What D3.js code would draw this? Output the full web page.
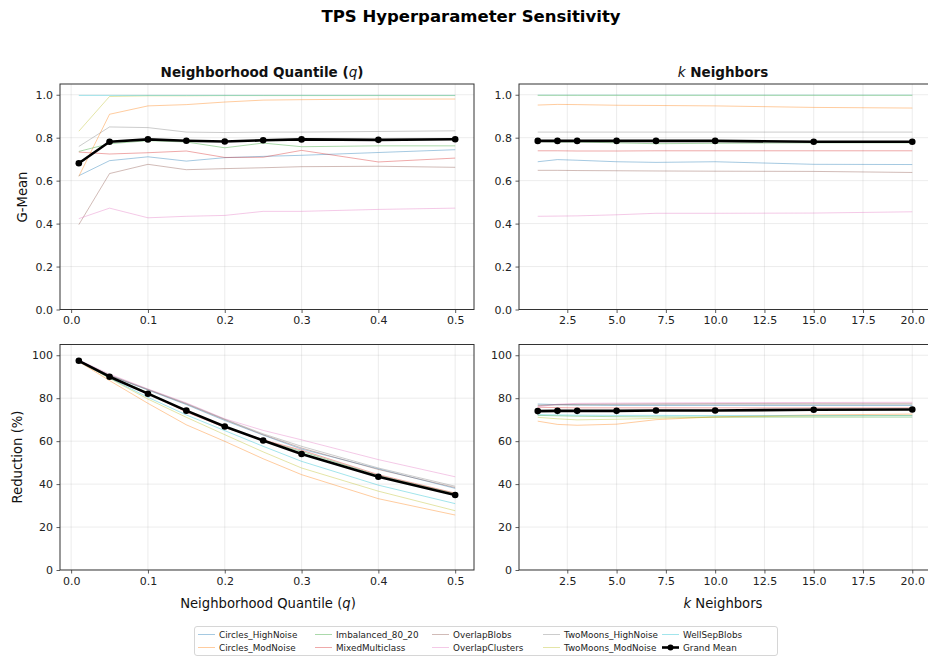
<!DOCTYPE html>
<html>
<head>
<meta charset="utf-8">
<script src="https://cdn.jsdelivr.net/npm/d3@7"></script>
<style>
  body { margin: 0; background: #fff; }
  svg { display: block; font-family: "DejaVu Sans", sans-serif; }
</style>
</head>
<body>
<svg id="chart" width="928" height="658"></svg>
<script>
// Sweep settings
const qValues = [0.01, 0.05, 0.1, 0.15, 0.2, 0.25, 0.3, 0.4, 0.5];
const kValues = [1, 2, 3, 5, 7, 10, 15, 20];

const datasetNames = [
  "Circles_HighNoise", "Circles_ModNoise", "Imbalanced_80_20", "MixedMulticlass",
  "OverlapBlobs", "OverlapClusters", "TwoMoons_HighNoise", "TwoMoons_ModNoise", "WellSepBlobs"
];
const datasetColors = ["#1f77b4", "#ff7f0e", "#2ca02c", "#d62728", "#8c564b",
                       "#e377c2", "#7f7f7f", "#bcbd22", "#17becf"];

// G-Mean per dataset across q
const gmeanQ = [
  [0.623, 0.693, 0.711, 0.691, 0.707, 0.713, 0.718, 0.731, 0.744],
  [0.620, 0.909, 0.948, 0.954, 0.966, 0.975, 0.977, 0.980, 0.980],
  [0.736, 0.772, 0.786, 0.780, 0.753, 0.775, 0.758, 0.762, 0.762],
  [0.733, 0.724, 0.730, 0.738, 0.708, 0.709, 0.741, 0.687, 0.705],
  [0.395, 0.633, 0.676, 0.651, 0.656, 0.660, 0.665, 0.667, 0.662],
  [0.423, 0.472, 0.427, 0.434, 0.438, 0.457, 0.457, 0.466, 0.472],
  [0.759, 0.850, 0.847, 0.826, 0.824, 0.826, 0.826, 0.829, 0.832],
  [0.830, 0.992, 0.995, 0.995, 0.996, 0.996, 0.996, 0.996, 0.996],
  [0.997, 0.997, 0.997, 0.997, 0.997, 0.997, 0.997, 0.997, 0.997]
];
const gmeanQMean = [0.681, 0.781, 0.792, 0.786, 0.782, 0.788, 0.792, 0.790, 0.793];

// G-Mean per dataset across k
const gmeanK = [
  [0.688, 0.698, 0.695, 0.688, 0.685, 0.688, 0.676, 0.675],
  [0.952, 0.955, 0.954, 0.951, 0.950, 0.948, 0.941, 0.938],
  [0.782, 0.780, 0.780, 0.776, 0.772, 0.774, 0.776, 0.776],
  [0.739, 0.739, 0.738, 0.738, 0.739, 0.739, 0.739, 0.739],
  [0.648, 0.648, 0.647, 0.646, 0.645, 0.644, 0.643, 0.638],
  [0.434, 0.435, 0.436, 0.441, 0.448, 0.448, 0.449, 0.455],
  [0.826, 0.826, 0.826, 0.826, 0.826, 0.826, 0.826, 0.826],
  [0.997, 0.997, 0.997, 0.997, 0.997, 0.997, 0.997, 0.997],
  [0.998, 0.998, 0.998, 0.998, 0.998, 0.998, 0.998, 0.998]
];
const gmeanKMean = [0.785, 0.785, 0.785, 0.785, 0.785, 0.785, 0.781, 0.781];

// Reduction (%) per dataset across q
const reductionQ = [
  [97.6, 90.5, 83.8, 77.0, 69.6, 62.8, 56.3, 47.1, 38.0],
  [97.0, 88.2, 77.6, 67.6, 59.9, 51.8, 44.4, 33.2, 25.6],
  [97.5, 90.2, 82.6, 73.8, 66.8, 60.4, 55.2, 44.0, 35.6],
  [97.4, 90.0, 82.4, 73.5, 66.4, 60.6, 55.8, 44.4, 35.8],
  [97.6, 90.6, 84.0, 77.3, 70.0, 63.0, 56.8, 46.8, 38.4],
  [97.8, 91.2, 84.3, 77.8, 70.4, 65.0, 60.6, 51.4, 43.4],
  [97.7, 90.8, 84.1, 77.5, 70.2, 63.4, 57.6, 47.5, 39.0],
  [97.2, 89.2, 79.6, 71.1, 63.0, 55.0, 47.5, 36.7, 27.6],
  [97.3, 89.4, 80.4, 72.2, 64.9, 57.6, 50.6, 39.5, 30.9]
];
const reductionQMean = [97.4, 90.0, 82.1, 74.2, 66.8, 60.3, 54.0, 43.4, 34.9];

// Reduction (%) per dataset across k
const reductionK = [
  [77.3, 77.0, 76.8, 76.6, 76.6, 76.6, 76.6, 76.6],
  [69.3, 67.8, 67.4, 67.9, 70.0, 71.3, 72.2, 72.6],
  [72.0, 71.8, 71.6, 71.4, 71.3, 71.2, 71.2, 71.2],
  [75.8, 75.6, 75.5, 75.5, 75.5, 75.5, 75.5, 75.5],
  [76.5, 77.0, 77.2, 77.3, 77.4, 77.5, 77.6, 77.6],
  [76.0, 77.2, 77.6, 77.7, 77.8, 77.9, 78.0, 78.1],
  [76.8, 76.9, 76.9, 77.0, 77.0, 77.0, 77.0, 77.0],
  [71.1, 70.4, 69.9, 70.2, 70.6, 71.2, 71.7, 72.0],
  [72.3, 72.2, 72.1, 72.0, 72.0, 71.9, 71.9, 71.9]
];
const reductionKMean = [74.0, 74.1, 74.1, 74.1, 74.3, 74.3, 74.6, 74.7];

const gmeanTicks = [0.0, 0.2, 0.4, 0.6, 0.8, 1.0];
const reductionTicks = [0, 20, 40, 60, 80, 100];
const qTicks = [0.0, 0.1, 0.2, 0.3, 0.4, 0.5];
const kTicks = [2.5, 5.0, 7.5, 10.0, 12.5, 15.0, 17.5, 20.0];

const svg = d3.select("#chart");

svg.append("text")
  .attr("x", 471).attr("y", 22)
  .attr("text-anchor", "middle")
  .attr("font-size", 16.5).attr("font-weight", "bold")
  .attr("fill", "#000")
  .text("TPS Hyperparameter Sensitivity");

const cols = [{ x0: 60, x1: 474 }, { x0: 519, x1: 931 }];
const rows = [{ y0: 84, y1: 309.5 }, { y0: 344.5, y1: 570 }];

function drawPanel(opts) {
  const { col, row, xVals, xDomain, xTicks, xFmt, yDomain, yTicks, yFmt, series, mean } = opts;
  const x = d3.scaleLinear().domain(xDomain).range([col.x0, col.x1]);
  const y = d3.scaleLinear().domain(yDomain).range([row.y1, row.y0]);
  const g = svg.append("g");

  const clipId = "clip" + Math.round(col.x0) + "_" + Math.round(row.y0);
  svg.append("clipPath").attr("id", clipId)
    .append("rect").attr("x", col.x0).attr("y", row.y0)
    .attr("width", col.x1 - col.x0).attr("height", row.y1 - row.y0);

  // grid
  const grid = g.append("g").attr("clip-path", `url(#${clipId})`);
  grid.selectAll("line.gx").data(xTicks).join("line")
    .attr("x1", d => x(d)).attr("x2", d => x(d))
    .attr("y1", row.y0).attr("y2", row.y1)
    .attr("stroke", "#b0b0b0").attr("stroke-opacity", 0.3).attr("stroke-width", 0.8);
  grid.selectAll("line.gy").data(yTicks).join("line")
    .attr("y1", d => y(d)).attr("y2", d => y(d))
    .attr("x1", col.x0).attr("x2", col.x1)
    .attr("stroke", "#b0b0b0").attr("stroke-opacity", 0.3).attr("stroke-width", 0.8);

  const line = d3.line().x((d, i) => x(xVals[i])).y(d => y(d));
  const plot = g.append("g").attr("clip-path", `url(#${clipId})`);
  series.forEach((vals, i) => {
    plot.append("path").datum(vals)
      .attr("d", line).attr("fill", "none")
      .attr("stroke", datasetColors[i]).attr("stroke-opacity", 0.4)
      .attr("stroke-width", 1);
  });
  plot.append("path").datum(mean)
    .attr("d", line).attr("fill", "none")
    .attr("stroke", "#000").attr("stroke-width", 2.6)
    .attr("stroke-linejoin", "round");
  plot.selectAll("circle").data(mean).join("circle")
    .attr("cx", (d, i) => x(xVals[i])).attr("cy", d => y(d))
    .attr("r", 3.3).attr("fill", "#000");

  // axes
  const xAxis = d3.axisBottom(x).tickValues(xTicks).tickFormat(xFmt).tickSize(3.5).tickPadding(3.5);
  const yAxis = d3.axisLeft(y).tickValues(yTicks).tickFormat(yFmt).tickSize(3.5).tickPadding(3.5);
  const gx = g.append("g").attr("transform", `translate(0,${row.y1})`).call(xAxis);
  const gy = g.append("g").attr("transform", `translate(${col.x0},0)`).call(yAxis);
  [gx, gy].forEach(a => {
    a.select(".domain").remove();
    a.selectAll(".tick line").attr("stroke", "#333").attr("stroke-width", 0.8);
    a.selectAll(".tick text").attr("fill", "#222").attr("font-size", 11)
      .attr("font-family", "DejaVu Sans, sans-serif");
  });

  // frame
  g.append("rect")
    .attr("x", col.x0).attr("y", row.y0)
    .attr("width", col.x1 - col.x0).attr("height", row.y1 - row.y0)
    .attr("fill", "none").attr("stroke", "#333").attr("stroke-width", 1);
  return { x, y };
}

const f1 = d3.format(".1f");
const f0 = d3.format("d");

drawPanel({ col: cols[0], row: rows[0], xVals: qValues, xDomain: [-0.0145, 0.5245], xTicks: qTicks, xFmt: f1,
  yDomain: [0, 1.05], yTicks: gmeanTicks, yFmt: f1, series: gmeanQ, mean: gmeanQMean });
drawPanel({ col: cols[1], row: rows[0], xVals: kValues, xDomain: [0.05, 20.95], xTicks: kTicks, xFmt: f1,
  yDomain: [0, 1.05], yTicks: gmeanTicks, yFmt: f1, series: gmeanK, mean: gmeanKMean });
drawPanel({ col: cols[0], row: rows[1], xVals: qValues, xDomain: [-0.0145, 0.5245], xTicks: qTicks, xFmt: f1,
  yDomain: [0, 105], yTicks: reductionTicks, yFmt: f0, series: reductionQ, mean: reductionQMean });
drawPanel({ col: cols[1], row: rows[1], xVals: kValues, xDomain: [0.05, 20.95], xTicks: kTicks, xFmt: f1,
  yDomain: [0, 105], yTicks: reductionTicks, yFmt: f0, series: reductionK, mean: reductionKMean });

// panel titles and axis labels
function mixedText(parent, x, y, parts, size, weight) {
  const t = parent.append("text").attr("x", x).attr("y", y)
    .attr("text-anchor", "middle").attr("font-size", size).attr("font-weight", weight)
    .attr("fill", "#111");
  parts.forEach(p => {
    t.append("tspan").attr("font-style", p.italic ? "italic" : "normal")
      .attr("font-weight", p.italic ? "normal" : weight).text(p.t);
  });
  return t;
}
mixedText(svg, 262, 77, [{ t: "Neighborhood Quantile (" }, { t: "q", italic: true }, { t: ")" }], 13.5, "bold");
mixedText(svg, 723, 77, [{ t: "k", italic: true }, { t: " Neighbors" }], 13.5, "bold");

mixedText(svg, 268, 608, [{ t: "Neighborhood Quantile (" }, { t: "q", italic: true }, { t: ")" }], 13.2, "normal");
mixedText(svg, 723, 608, [{ t: "k", italic: true }, { t: " Neighbors" }], 13.2, "normal");
svg.append("text").attr("transform", "translate(27,197) rotate(-90)")
  .attr("text-anchor", "middle").attr("font-size", 13.2).attr("fill", "#111").text("G-Mean");
svg.append("text").attr("transform", "translate(22,457) rotate(-90)")
  .attr("text-anchor", "middle").attr("font-size", 13.2).attr("fill", "#111").text("Reduction (%)");

// legend
const legend = svg.append("g");
legend.append("rect").attr("x", 194.5).attr("y", 626.5).attr("width", 583).attr("height", 29)
  .attr("rx", 2.5).attr("fill", "#fff").attr("stroke", "#ccc").attr("stroke-width", 0.8);
const legendItems = datasetNames.map((n, i) => ({ name: n, color: datasetColors[i], mean: false }))
  .concat([{ name: "Grand Mean", color: "#000", mean: true }]);
const colX = [198, 315, 432, 543, 662];
legendItems.forEach((d, i) => {
  const c = Math.floor(i / 2), r = i % 2;
  const lx = colX[c], ly = 634.5 + r * 13;
  if (d.mean) {
    legend.append("line").attr("x1", lx).attr("x2", lx + 17).attr("y1", ly).attr("y2", ly)
      .attr("stroke", "#000").attr("stroke-width", 2.6);
    legend.append("circle").attr("cx", lx + 8.5).attr("cy", ly).attr("r", 3).attr("fill", "#000");
  } else {
    legend.append("line").attr("x1", lx).attr("x2", lx + 17).attr("y1", ly).attr("y2", ly)
      .attr("stroke", d.color).attr("stroke-opacity", 0.4).attr("stroke-width", 1);
  }
  legend.append("text").attr("x", lx + 21).attr("y", ly + 3).attr("font-size", 8.8)
    .attr("fill", "#222").text(d.name);
});
</script>
</body>
</html>
